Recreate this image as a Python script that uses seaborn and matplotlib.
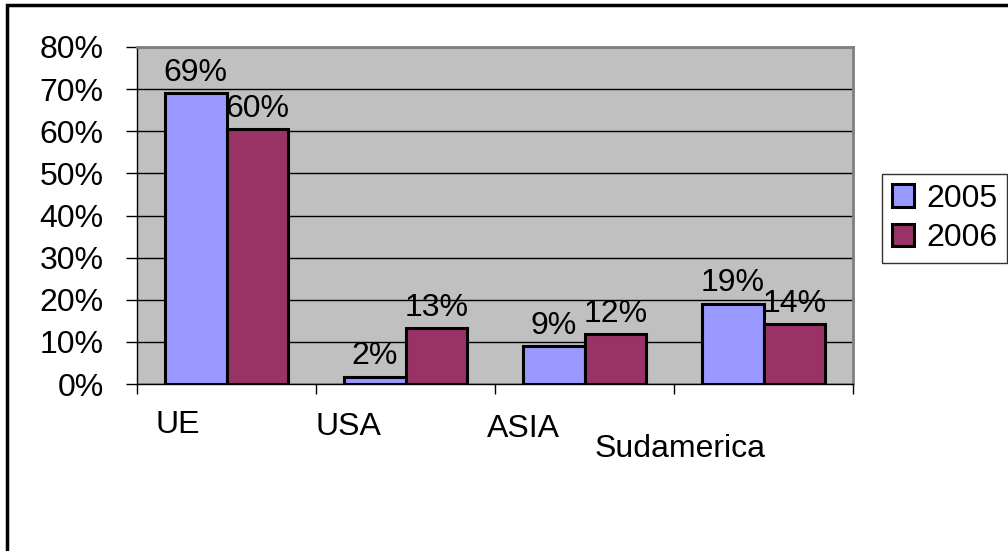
# Exportaciones por region 2005 vs 2006, estilo grafico de Excel

import pandas as pd
import matplotlib.pyplot as plt
from matplotlib.patches import Rectangle
from matplotlib.ticker import FuncFormatter
import seaborn as sns

# Data
regions = ["UE", "USA", "ASIA", "Sudamerica"]
share_2005 = [0.69, 0.017, 0.09, 0.19]
share_2006 = [0.605, 0.132, 0.118, 0.142]
years = ["2005", "2006"]
colors = ["#9999FF", "#993366"]

df = pd.DataFrame({
    "region": regions * 2,
    "year": [years[0]] * 4 + [years[1]] * 4,
    "share": share_2005 + share_2006,
})

sns.set_style("white")
plt.rcParams["font.family"] = ["Liberation Sans", "DejaVu Sans"]
plt.rcParams["font.size"] = 23
for key in ["text.color", "xtick.color", "ytick.color", "axes.labelcolor"]:
    plt.rcParams[key] = "black"

fig = plt.figure(figsize=(10.08, 5.51), dpi=100)
ax = fig.add_axes([137 / 1008, 167 / 551, 716 / 1008, 337 / 551])

sns.barplot(data=df, x="region", y="share", hue="year", order=regions,
            palette=colors, width=0.69, gap=0, edgecolor="black",
            linewidth=2.2, saturation=1, ax=ax, zorder=3)

# Value labels above the bars
for cont, vals in zip(ax.containers, [share_2005, share_2006]):
    ax.bar_label(cont, labels=[f"{v:.0%}" for v in vals], padding=4, fontsize=23)

ax.set_facecolor("#C0C0C0")
ax.set_ylim(0, 0.8)
ax.set_xlim(-0.5, 3.5)
ax.set_yticks([i / 10 for i in range(9)])
ax.yaxis.set_major_formatter(FuncFormatter(lambda v, _: f"{v:.0%}"))
ax.grid(axis="y", color="black", linewidth=1, zorder=1)
ax.set_axisbelow(True)
ax.tick_params(axis="y", direction="out", length=8, width=1, color="black",
               left=True, pad=16, labelsize=23)

# Ticks at category boundaries, labels placed by hand (Excel stagger)
ax.set_xticks([-0.5, 0.5, 1.5, 2.5, 3.5])
ax.set_xticklabels([])
ax.tick_params(axis="x", direction="out", length=7, width=1, color="black", bottom=True)
label_pos = [(0.057, -0.122), (0.295, -0.128), (0.540, -0.134), (0.758, -0.193)]
for name, (xf, yf) in zip(regions, label_pos):
    ax.text(xf, yf, name, transform=ax.transAxes, ha="center", va="center", fontsize=23)

ax.set_xlabel("")
ax.set_ylabel("")
for side in ["left", "bottom"]:
    ax.spines[side].set_color("black")
    ax.spines[side].set_linewidth(1)
for side in ["top", "right"]:
    ax.spines[side].set_color("#808080")
    ax.spines[side].set_linewidth(2)

# Legend
handles, labels = ax.get_legend_handles_labels()
ax.legend(handles, labels, loc="upper left", bbox_to_anchor=(882 / 1008, 1 - 174 / 551),
          bbox_transform=fig.transFigure, frameon=True, fancybox=False,
          edgecolor="black", fontsize=23, handlelength=0.7, handleheight=0.7,
          handletextpad=0.4, borderpad=0.3, labelspacing=0.3, borderaxespad=0)
ax.get_legend().get_frame().set_linewidth(1)

# Outer chart border (cropped on right and bottom)
fig.patches.append(Rectangle((7 / 1008, -0.1), 1.2, 1.1 - 5 / 551, transform=fig.transFigure,
                             fill=False, edgecolor="black", linewidth=2.5))

plt.savefig("out.png", dpi=100)
plt.close()
